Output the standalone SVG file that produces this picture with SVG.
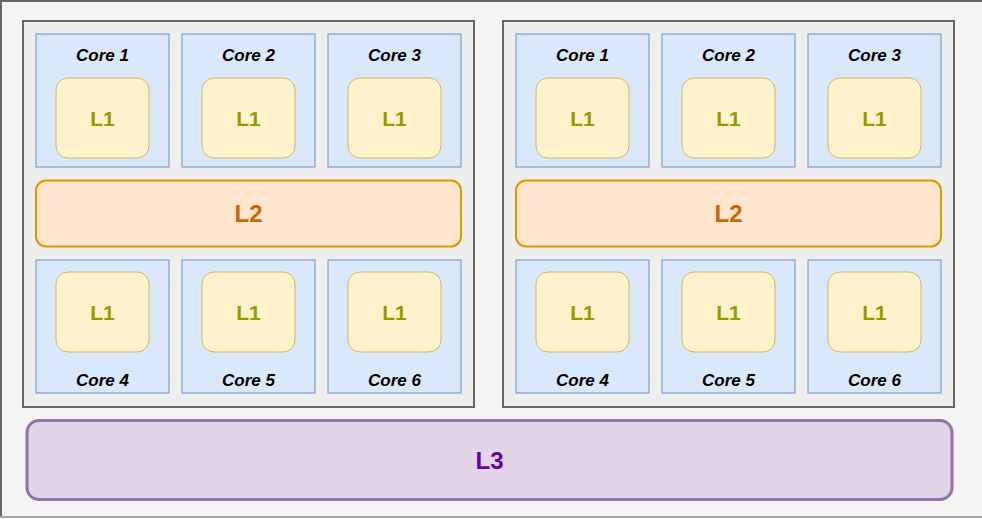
<svg xmlns="http://www.w3.org/2000/svg" width="982" height="519" viewBox="0 0 982 519">
<style>
.pkg{fill:#eeeeee;stroke:#666666;stroke-width:2}
.core{fill:#dae8fc;stroke:#6c8ebf;stroke-width:1}
.l1{fill:#fff2cc;stroke:#d6b656;stroke-width:1}
.l2{fill:#ffe6cc;stroke:#d79b00;stroke-width:2}
.l3{fill:#e1d5e7;stroke:#9673a6;stroke-width:3}
.ct{font-family:"Liberation Sans",Arial,sans-serif;font-size:17px;font-weight:bold;font-style:italic;fill:#000;text-anchor:middle}
.t1{font-family:"Liberation Sans",Arial,sans-serif;font-size:21px;font-weight:bold;fill:#999900;text-anchor:middle}
.t2{font-family:"Liberation Sans",Arial,sans-serif;font-size:24px;font-weight:bold;fill:#cc6600;text-anchor:middle}
.t3{font-family:"Liberation Sans",Arial,sans-serif;font-size:24px;font-weight:bold;fill:#6600aa;text-anchor:middle}
</style>
<defs>
<g id="coreTop">
<rect class="core" x="0" y="0" width="133" height="133"/>
<rect class="l1" x="20" y="44" width="93" height="80" rx="12"/>
<text class="t1" x="66.5" y="91.5">L1</text>
</g>
<g id="coreBot">
<rect class="core" x="0" y="0" width="133" height="133"/>
<rect class="l1" x="20" y="12" width="93" height="80" rx="12"/>
<text class="t1" x="66.5" y="59.5">L1</text>
</g>
</defs>
<rect x="1" y="1" width="990" height="516" fill="#f5f5f5" stroke="#666666" stroke-width="2"/>
<rect x="0" y="516.5" width="982" height="1" fill="#dddddd"/>
<g id="package1">
<rect class="pkg" x="23" y="21" width="451" height="386"/>
</g>
<g id="package2">
<rect class="pkg" x="503" y="21" width="451" height="386"/>
</g>
<g id="p1core1"><use href="#coreTop" x="36" y="34"/><text class="ct" x="102.5" y="60.5">Core 1</text></g>
<g id="p1core2"><use href="#coreTop" x="182" y="34"/><text class="ct" x="248.5" y="60.5">Core 2</text></g>
<g id="p1core3"><use href="#coreTop" x="328" y="34"/><text class="ct" x="394.5" y="60.5">Core 3</text></g>
<g id="p1core4"><use href="#coreBot" x="36" y="260"/><text class="ct" x="102.5" y="385.5">Core 4</text></g>
<g id="p1core5"><use href="#coreBot" x="182" y="260"/><text class="ct" x="248.5" y="385.5">Core 5</text></g>
<g id="p1core6"><use href="#coreBot" x="328" y="260"/><text class="ct" x="394.5" y="385.5">Core 6</text></g>
<g id="p1L2"><rect class="l2" x="36" y="180.5" width="425" height="66" rx="10"/><text class="t2" x="248.5" y="222">L2</text></g>
<g id="p2core1"><use href="#coreTop" x="516" y="34"/><text class="ct" x="582.5" y="60.5">Core 1</text></g>
<g id="p2core2"><use href="#coreTop" x="662" y="34"/><text class="ct" x="728.5" y="60.5">Core 2</text></g>
<g id="p2core3"><use href="#coreTop" x="808" y="34"/><text class="ct" x="874.5" y="60.5">Core 3</text></g>
<g id="p2core4"><use href="#coreBot" x="516" y="260"/><text class="ct" x="582.5" y="385.5">Core 4</text></g>
<g id="p2core5"><use href="#coreBot" x="662" y="260"/><text class="ct" x="728.5" y="385.5">Core 5</text></g>
<g id="p2core6"><use href="#coreBot" x="808" y="260"/><text class="ct" x="874.5" y="385.5">Core 6</text></g>
<g id="p2L2"><rect class="l2" x="516" y="180.5" width="425" height="66" rx="10"/><text class="t2" x="728.5" y="222">L2</text></g>
<g id="L3"><rect class="l3" x="27" y="420.5" width="925" height="79" rx="12"/><text class="t3" x="489.5" y="469">L3</text></g>
<g id="connectors"/>
</svg>
